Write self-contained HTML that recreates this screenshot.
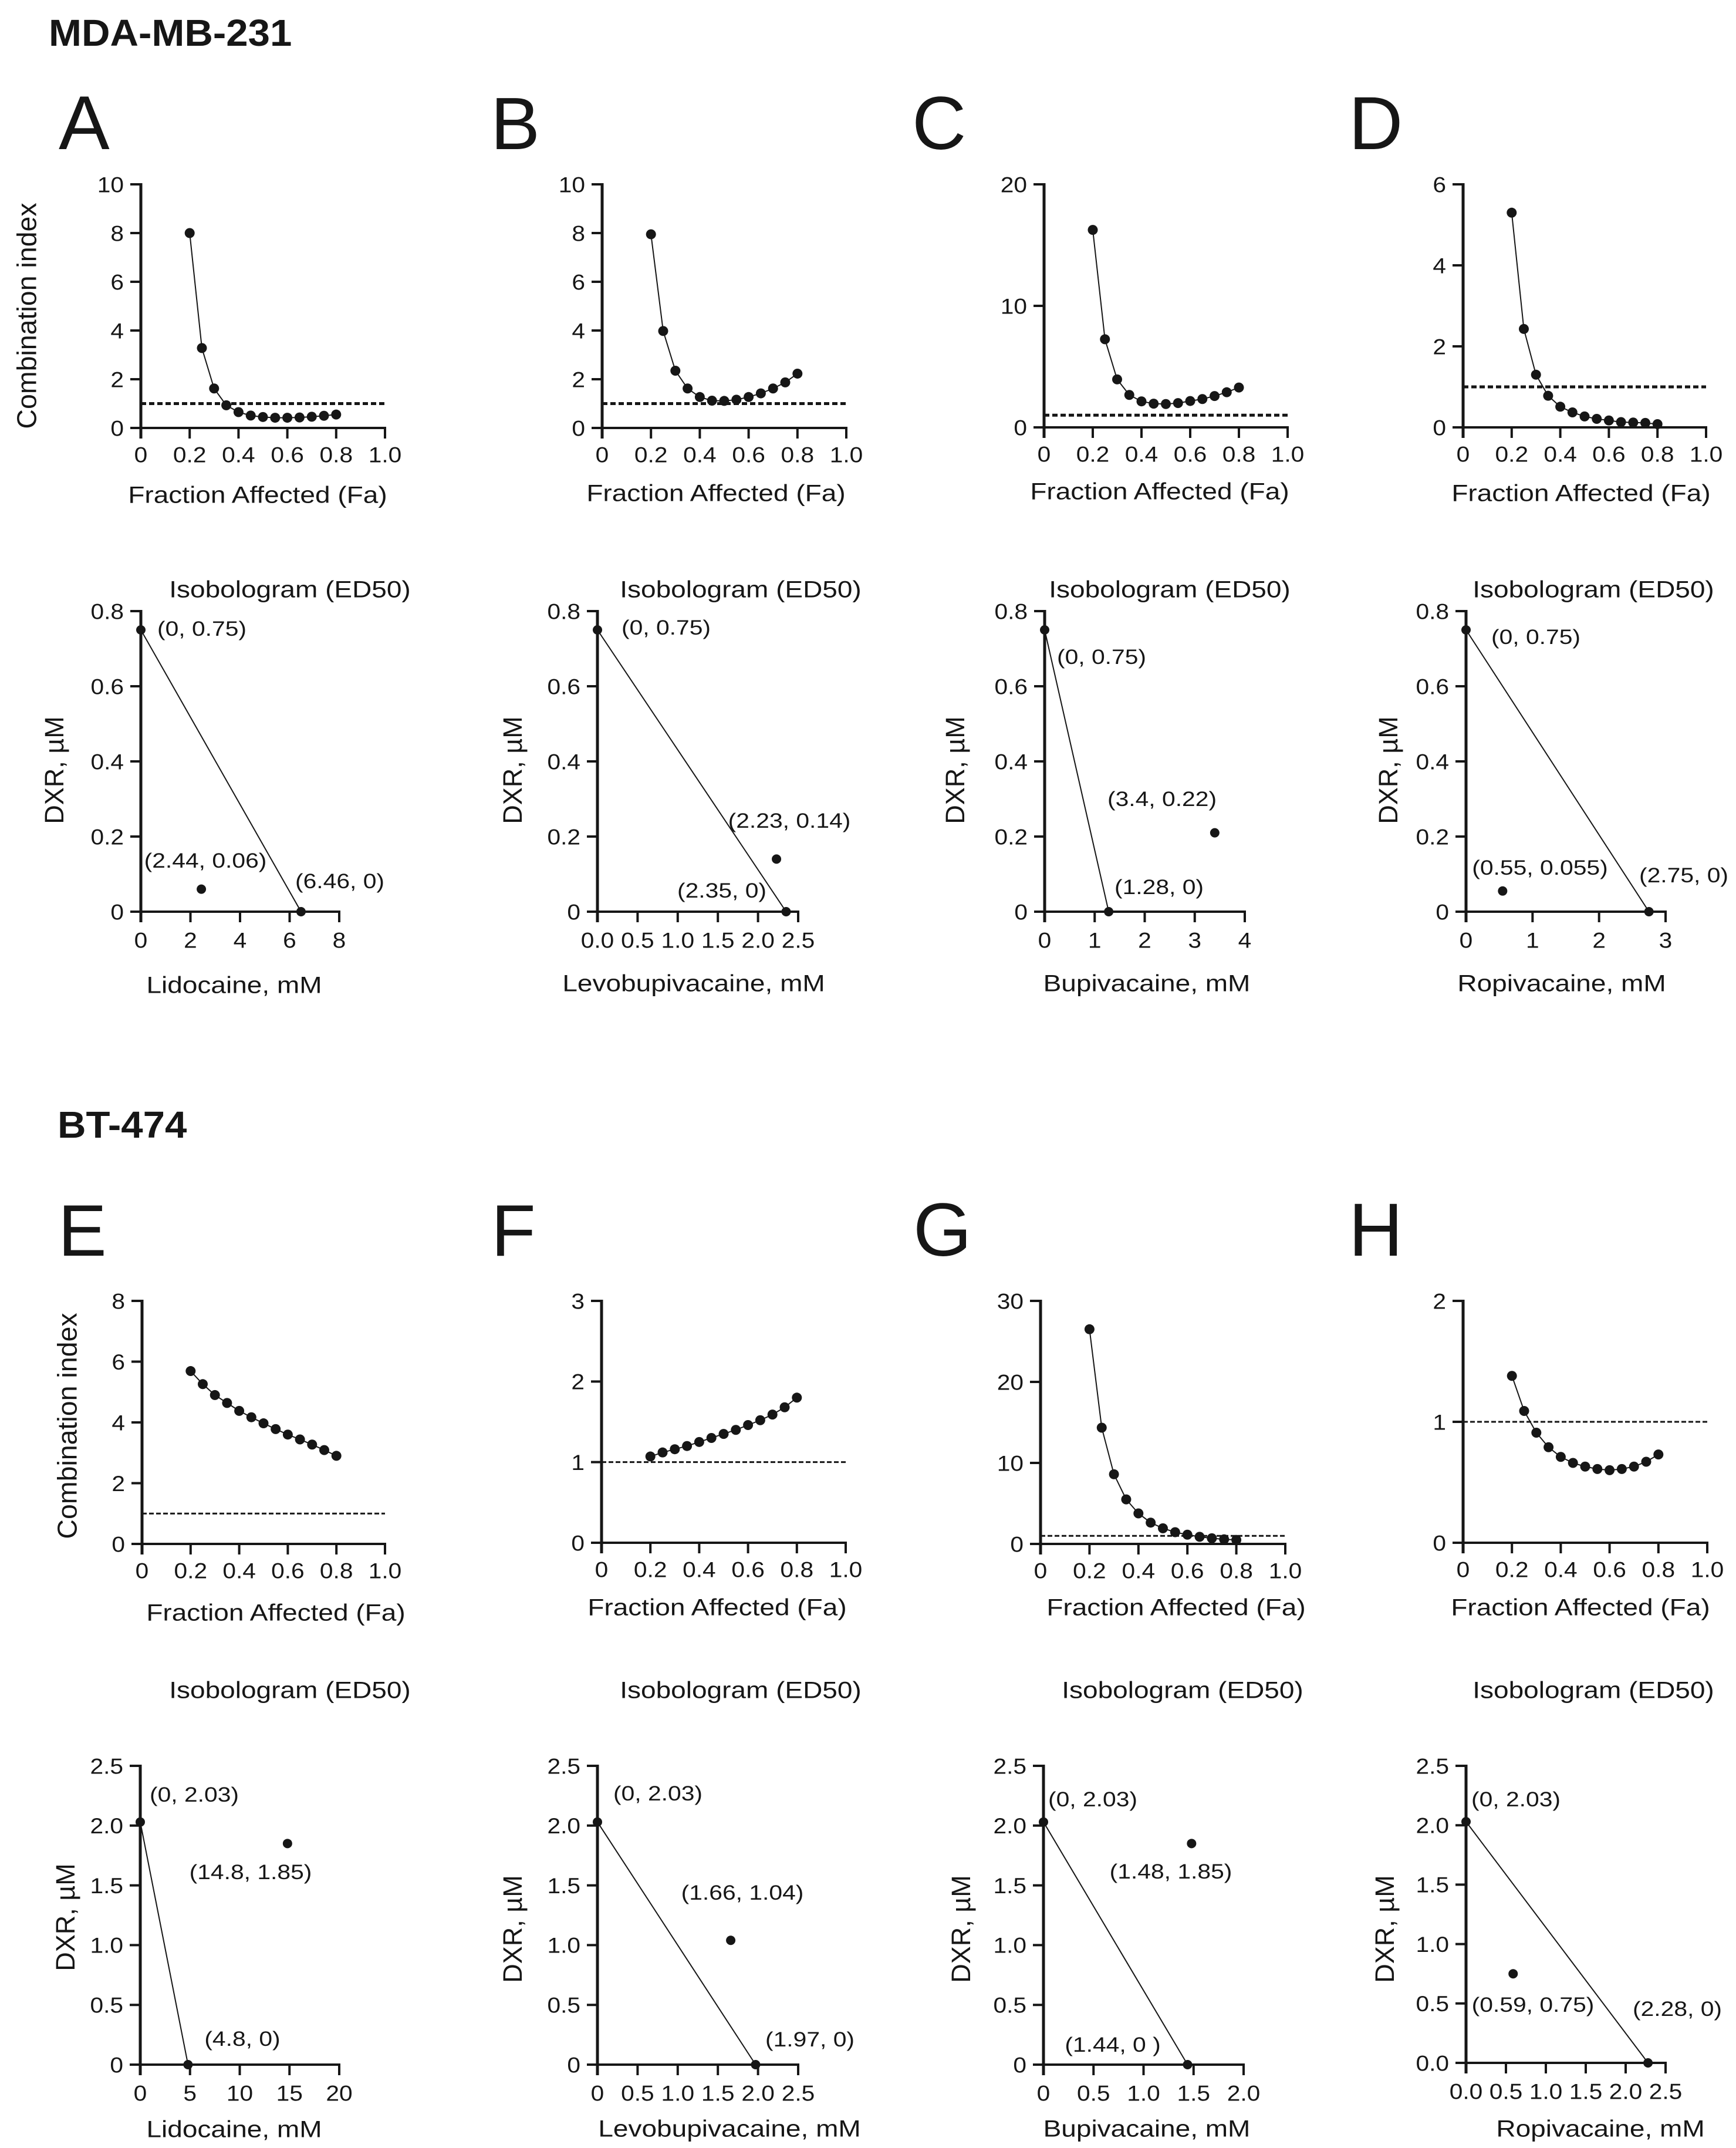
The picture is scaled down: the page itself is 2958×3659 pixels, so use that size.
<!DOCTYPE html>
<html lang="en">
<head>
<meta charset="utf-8">
<title>Combination index and isobolograms</title>
<style>
html,body{margin:0;padding:0;background:#fff;}
svg{display:block;}
text{font-family:"Liberation Sans",Arial,sans-serif;fill:#161616;}
</style>
</head>
<body>
<svg id="figure" xmlns="http://www.w3.org/2000/svg" width="2958" height="3659" viewBox="0 0 2958 3659">
<rect width="2958" height="3659" fill="#fff"/>
<text transform="translate(83,78) scale(1.05,1)" font-size="64" font-weight="700">MDA-MB-231</text>
<text transform="translate(98,1938) scale(1.05,1)" font-size="64" font-weight="700">BT-474</text>
<text x="100" y="254" font-size="130">A</text>
<text x="836" y="254" font-size="126">B</text>
<text x="1554" y="254" font-size="128">C</text>
<text x="2298" y="254" font-size="128">D</text>
<text x="99" y="2139" font-size="124">E</text>
<text x="837" y="2139" font-size="124">F</text>
<text x="1556" y="2139" font-size="128">G</text>
<text x="2298" y="2139" font-size="128">H</text>
</svg>
<script>
// ---------- chart data ----------
const faValues = [0.2,0.25,0.3,0.35,0.4,0.45,0.5,0.55,0.6,0.65,0.7,0.75,0.8];
const ciThreshold = 1;
const ciA = [8.0,3.28,1.62,0.93,0.65,0.51,0.45,0.42,0.42,0.43,0.46,0.5,0.55];
const ciB = [7.95,3.98,2.35,1.62,1.27,1.12,1.11,1.16,1.27,1.42,1.62,1.87,2.23];
const ciC = [16.25,7.25,3.95,2.67,2.14,1.95,1.92,2.0,2.17,2.33,2.58,2.89,3.28];
const ciD = [5.3,2.43,1.3,0.78,0.51,0.37,0.27,0.21,0.17,0.13,0.12,0.11,0.08];
const ciE = [5.69,5.26,4.9,4.64,4.38,4.17,3.97,3.78,3.6,3.44,3.27,3.09,2.9];
const ciF = [1.07,1.12,1.16,1.2,1.25,1.3,1.35,1.4,1.46,1.52,1.59,1.68,1.8];
const ciG = [26.5,14.35,8.6,5.5,3.77,2.63,1.93,1.45,1.14,0.88,0.7,0.57,0.5];
const ciH = [1.38,1.09,0.91,0.79,0.71,0.66,0.63,0.61,0.6,0.61,0.63,0.67,0.73];

const faTicks = [0,0.2,0.4,0.6,0.8,1.0];
const faTickLabels = ['0','0.2','0.4','0.6','0.8','1.0'];
const ciTicksAB = [0,2,4,6,8,10];
const ciTicksC = [0,10,20];
const ciTicksD = [0,2,4,6];
const ciTicksE = [0,2,4,6,8];
const ciTicksF = [0,1,2,3];
const ciTicksG = [0,10,20,30];
const ciTicksH = [0,1,2];

const isoYTicksTop = [0,0.2,0.4,0.6,0.8];
const isoYLabelsTop = ['0','0.2','0.4','0.6','0.8'];
const isoYTicksBottom = [0,0.5,1,1.5,2,2.5];
const isoYLabelsBottom = ['0','0.5','1.0','1.5','2.0','2.5'];
const isoYLabelsH = ['0.0','0.5','1.0','1.5','2.0','2.5'];

const isoXTicksLido = [0,2,4,6,8];
const isoXTicksLevo = [0,0.5,1,1.5,2,2.5];
const isoXLabelsLevo = ['0.0','0.5','1.0','1.5','2.0','2.5'];
const isoXTicksBupi = [0,1,2,3,4];
const isoXTicksRopi = [0,1,2,3];
const isoXTicksLidoE = [0,5,10,15,20];
const isoXLabelsLevoF = ['0','0.5','1.0','1.5','2.0','2.5'];
const isoXTicksBupiG = [0,0.5,1,1.5,2];
const isoXLabelsBupiG = ['0','0.5','1.0','1.5','2.0'];

// isobologram: y-intercept, x-intercept, combination point [x, y]
const isoInterceptsA = [0.75,6.46];  const isoPointA = [2.44,0.06];
const isoInterceptsB = [0.75,2.35];  const isoPointB = [2.23,0.14];
const isoInterceptsC = [0.75,1.28];  const isoPointC = [3.4,0.21];
const isoInterceptsD = [0.75,2.75];  const isoPointD = [0.55,0.055];
const isoInterceptsE = [2.03,4.8];   const isoPointE = [14.8,1.85];
const isoInterceptsF = [2.03,1.97];  const isoPointF = [1.66,1.04];
const isoInterceptsG = [2.03,1.44];  const isoPointG = [1.48,1.85];
const isoInterceptsH = [2.03,2.28];  const isoPointH = [0.59,0.75];

const isoTextA = ['(0, 0.75)','(2.44, 0.06)','(6.46, 0)'];
const isoTextB = ['(0, 0.75)','(2.23, 0.14)','(2.35, 0)'];
const isoTextC = ['(0, 0.75)','(3.4, 0.22)','(1.28, 0)'];
const isoTextD = ['(0, 0.75)','(0.55, 0.055)','(2.75, 0)'];
const isoTextE = ['(0, 2.03)','(14.8, 1.85)','(4.8, 0)'];
const isoTextF = ['(0, 2.03)','(1.66, 1.04)','(1.97, 0)'];
const isoTextG = ['(0, 2.03)','(1.48, 1.85)','(1.44, 0 )'];
const isoTextH = ['(0, 2.03)','(0.59, 0.75)','(2.28, 0)'];

// ---------- drawing ----------
const svg = document.getElementById('figure');
const NS = 'http://www.w3.org/2000/svg';
const INK = '#161616';

function make(tag, attrs, parent) {
  const n = document.createElementNS(NS, tag);
  for (const k in attrs) n.setAttribute(k, attrs[k]);
  parent.appendChild(n);
  return n;
}

function label(parent, str, x, y, size, anchor, sx) {
  const t = make('text', {
    transform: 'translate(' + x + ',' + (y + size * 0.36) + ') scale(' + sx + ',1)',
    'font-size': size,
    'text-anchor': anchor
  }, parent);
  t.textContent = str;
  return t;
}

function rotated(parent, str, x, y, size) {
  const t = make('text', {
    transform: 'translate(' + (x + size * 0.36) + ',' + y + ') rotate(-90)',
    'font-size': size,
    'text-anchor': 'middle'
  }, parent);
  t.textContent = str;
  return t;
}

function drawAxes(g, box, xTicks, xLabels, xMax, yTicks, yLabels, yMax, xLabelGap) {
  const sx = v => box.x0 + (box.x1 - box.x0) * v / xMax;
  const sy = v => box.yb - (box.yb - box.yt) * v / yMax;
  const yAxis = make('line', {x1: box.x0, x2: box.x0, y1: box.yt - 2, y2: box.yb + 18, stroke: INK, 'stroke-width': 5}, g);
  
  
  const xAxis = make('line', {x1: box.x0 - 18, x2: box.x1 + 2, y1: box.yb, y2: box.yb, stroke: INK, 'stroke-width': 4}, g);
  
  
  yTicks.forEach((v, i) => {
    const tick = make('line', {x1: box.x0 - 18, x2: box.x0, y1: sy(v), y2: sy(v), stroke: INK, 'stroke-width': 4}, g);
    
    
    const lab = label(g, yLabels[i], box.x0 - 29, sy(v), 37, 'end', 1.1);
    
    
  });
  xTicks.forEach((v, i) => {
    const tick = make('line', {x1: sx(v), x2: sx(v), y1: box.yb, y2: box.yb + 18, stroke: INK, 'stroke-width': 4}, g);
    
    
    const lab = label(g, xLabels[i], sx(v), box.yb + xLabelGap, 37, 'middle', 1.1);
    
    
  });
  return {sx, sy};
}

function drawCI(id, box, values, yTicks, yMax, title, yTitle, dash) {
  const g = make('g', {}, svg);
  
  
  const {sx, sy} = drawAxes(g, box, faTicks, faTickLabels, 1, yTicks, yTicks.map(String), yMax, 45);

  const ref = make('line', {
    x1: sx(0), x2: sx(1), y1: sy(ciThreshold), y2: sy(ciThreshold),
    stroke: INK, 'stroke-width': dash.w, 'stroke-dasharray': dash.p
  }, g);
  
  

  const pts = faValues.map((f, i) => sx(f) + ',' + sy(values[i])).join(' ');
  const line = make('polyline', {points: pts, fill: 'none', stroke: INK, 'stroke-width': 2}, g);
  
  

  faValues.forEach((f, i) => {
    const dot = make('circle', {cx: sx(f), cy: sy(values[i]), r: 8.5, fill: INK}, g);
    
    
  });

  const xt = label(g, 'Fraction Affected (Fa)', title[0], title[1], 40, 'middle', 1.15);
  
  
  if (yTitle) {
    const yt = rotated(g, 'Combination index', yTitle[0], yTitle[1], 46.5);
    
    
  }
}

function drawIso(id, box, xTicks, xLabels, yTicks, yLabels, intercepts, point, texts, layout, drug) {
  const g = make('g', {}, svg);
  
  
  const xMax = xTicks[xTicks.length - 1];
  const yMax = yTicks[yTicks.length - 1];
  const {sx, sy} = drawAxes(g, box, xTicks, xLabels, xMax, yTicks, yLabels, yMax, 48);

  const additive = make('line', {
    x1: sx(0), y1: sy(intercepts[0]), x2: sx(intercepts[1]), y2: sy(0),
    stroke: INK, 'stroke-width': 2
  }, g);
  
  

  const p0 = make('circle', {cx: sx(0), cy: sy(intercepts[0]), r: 8, fill: INK}, g);
  
  
  const p1 = make('circle', {cx: sx(intercepts[1]), cy: sy(0), r: 8, fill: INK}, g);
  
  
  const p2 = make('circle', {cx: sx(point[0]), cy: sy(point[1]), r: 8, fill: INK}, g);
  
  

  texts.forEach((s, i) => {
    const a = label(g, s, layout.labels[i][0], layout.labels[i][1], 35.5, 'middle', 1.15);
    
    
  });

  const head = label(g, 'Isobologram (ED50)', layout.head[0], layout.head[1], 40, 'middle', 1.15);
  
  
  const xt = label(g, drug + ', mM', layout.xt[0], layout.xt[1], 40, 'middle', 1.15);
  
  
  const yt = rotated(g, 'DXR, \u00B5M', layout.yt[0], layout.yt[1], 45);
  
  
}

const dashTop = {w: 5, p: '9 5'};
const dashBottom = {w: 3, p: '8 4'};

drawCI('a', {x0:240,x1:656,yt:314,yb:729}, ciA, ciTicksAB, 10, [439,842], [45,538], dashTop);
drawCI('b', {x0:1026,x1:1442,yt:314,yb:729}, ciB, ciTicksAB, 10, [1220,839], null, dashTop);
drawCI('c', {x0:1779,x1:2194,yt:314,yb:728}, ciC, ciTicksC, 20, [1976,836], null, dashTop);
drawCI('d', {x0:2493,x1:2907,yt:314,yb:728}, ciD, ciTicksD, 6, [2694,839], null, dashTop);
drawCI('e', {x0:242,x1:656,yt:2216,yb:2630}, ciE, ciTicksE, 8, [470,2746], [114,2429], dashBottom);
drawCI('f', {x0:1025,x1:1441,yt:2216,yb:2628}, ciF, ciTicksF, 3, [1222,2737], null, dashBottom);
drawCI('g', {x0:1773,x1:2190,yt:2216,yb:2630}, ciG, ciTicksG, 30, [2004,2737], null, dashBottom);
drawCI('h', {x0:2493,x1:2909,yt:2216,yb:2628}, ciH, ciTicksH, 2, [2693,2737], null, dashBottom);

drawIso('a', {x0:240,x1:578,yt:1041,yb:1553}, isoXTicksLido, isoXTicksLido.map(String), isoYTicksTop, isoYLabelsTop, isoInterceptsA, isoPointA, isoTextA,
  {labels:[[344,1070],[350,1465],[579,1500]], head:[494,1003], xt:[399,1677], yt:[92,1312]}, 'Lidocaine');
drawIso('b', {x0:1018,x1:1360,yt:1041,yb:1553}, isoXTicksLevo, isoXLabelsLevo, isoYTicksTop, isoYLabelsTop, isoInterceptsB, isoPointB, isoTextB,
  {labels:[[1135,1068],[1345,1397],[1230,1516]], head:[1262,1003], xt:[1182,1674], yt:[873,1312]}, 'Levobupivacaine');
drawIso('c', {x0:1780,x1:2121,yt:1041,yb:1553}, isoXTicksBupi, isoXTicksBupi.map(String), isoYTicksTop, isoYLabelsTop, isoInterceptsC, isoPointC, isoTextC,
  {labels:[[1877,1118],[1980,1360],[1975,1510]], head:[1993,1003], xt:[1954,1674], yt:[1627,1312]}, 'Bupivacaine');
drawIso('d', {x0:2498,x1:2838,yt:1041,yb:1553}, isoXTicksRopi, isoXTicksRopi.map(String), isoYTicksTop, isoYLabelsTop, isoInterceptsD, isoPointD, isoTextD,
  {labels:[[2617,1084],[2624,1477],[2869,1490]], head:[2715,1003], xt:[2661,1674], yt:[2365,1312]}, 'Ropivacaine');
drawIso('e', {x0:239,x1:578,yt:3008,yb:3517}, isoXTicksLidoE, isoXTicksLidoE.map(String), isoYTicksBottom, isoYLabelsBottom, isoInterceptsE, isoPointE, isoTextE,
  {labels:[[331,3056],[427,3188],[413,3472]], head:[494,2878], xt:[399,3626], yt:[111,3266]}, 'Lidocaine');
drawIso('f', {x0:1018,x1:1360,yt:3008,yb:3517}, isoXTicksLevo, isoXLabelsLevoF, isoYTicksBottom, isoYLabelsBottom, isoInterceptsF, isoPointF, isoTextF,
  {labels:[[1121,3054],[1265,3223],[1380,3473]], head:[1262,2878], xt:[1243,3625], yt:[873,3286]}, 'Levobupivacaine');
drawIso('g', {x0:1778,x1:2119,yt:3008,yb:3517}, isoXTicksBupiG, isoXLabelsBupiG, isoYTicksBottom, isoYLabelsBottom, isoInterceptsG, isoPointG, isoTextG,
  {labels:[[1862,3064],[1995,3187],[1896,3482]], head:[2015,2878], xt:[1954,3625], yt:[1637,3286]}, 'Bupivacaine');
drawIso('h', {x0:2498,x1:2838,yt:3008,yb:3514}, isoXTicksLevo, isoXLabelsLevo, isoYTicksBottom, isoYLabelsH, isoInterceptsH, isoPointH, isoTextH,
  {labels:[[2583,3064],[2612,3414],[2858,3421]], head:[2715,2878], xt:[2727,3625], yt:[2359,3286]}, 'Ropivacaine');
</script>
</body>
</html>
